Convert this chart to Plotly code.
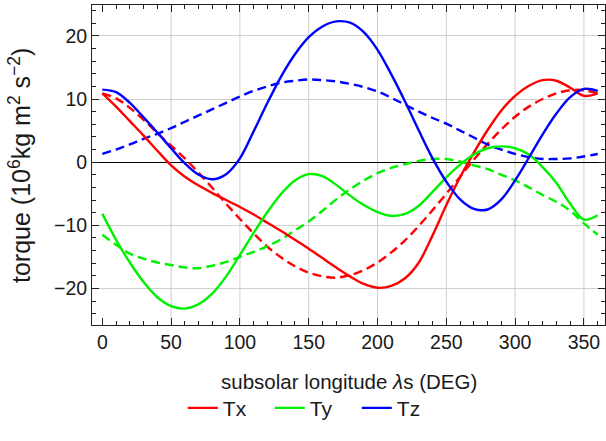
import plotly.graph_objects as go

# Torque components vs. subsolar longitude (solid: full model, dashed: smooth model)
lon = [0, 10, 20, 30, 40, 50, 60, 70, 80, 90, 100, 110, 120, 130, 140, 150, 160, 170, 180,
       190, 200, 210, 220, 230, 240, 250, 260, 270, 280, 290, 300, 310, 320, 330, 340, 350, 360]

tx = [10.9, 8.8, 6.5, 4.2, 1.8, -0.5, -2.3, -3.7, -4.9, -6.0, -7.1, -8.3, -9.6, -10.9, -12.3,
      -13.7, -15.2, -16.7, -18.1, -19.3, -19.9, -19.6, -18.4, -15.9, -11.6, -6.8, -2.4, 1.5,
      5.1, 8.2, 10.5, 12.1, 13.0, 12.9, 11.8, 10.5, 10.9]
tx_mean = [10.9, 10.1, 8.6, 6.7, 4.6, 2.6, 0.6, -1.7, -4.1, -6.6, -9.0, -11.3, -13.4, -15.1,
           -16.5, -17.5, -18.1, -18.3, -17.9, -17.1, -15.9, -14.3, -12.4, -10.1, -7.6, -5.0,
           -2.3, 0.4, 2.9, 5.2, 7.2, 8.8, 10.0, 10.9, 11.4, 11.4, 10.9]

ty = [-8.2, -12.3, -15.9, -19.0, -21.4, -22.8, -23.2, -22.5, -20.8, -18.1, -14.7, -11.2, -7.9,
      -5.0, -2.9, -1.9, -2.2, -3.6, -5.3, -6.8, -7.9, -8.5, -8.2, -6.9, -4.7, -2.4, -0.4, 1.2,
      2.2, 2.5, 2.2, 1.2, -0.8, -3.3, -6.6, -9.1, -8.4]
ty_mean = [-11.5, -13.1, -14.5, -15.3, -15.9, -16.3, -16.7, -16.8, -16.4, -15.8, -15.0, -14.2,
           -13.3, -12.2, -10.8, -9.4, -7.7, -5.9, -4.3, -2.9, -1.75, -0.9, -0.3, 0.2, 0.5, 0.5,
           0.1, -0.5, -1.1, -2.0, -2.9, -4.0, -5.2, -6.3, -7.7, -9.7, -11.5]

tz = [11.5, 11.1, 9.4, 7.1, 4.7, 2.2, -0.2, -2.0, -2.7, -1.9, 0.6, 4.9, 9.4, 13.6, 17.1, 19.8,
      21.5, 22.3, 22.1, 20.6, 17.8, 13.9, 9.6, 5.0, 0.6, -3.1, -5.9, -7.4, -7.5, -5.9, -2.9, 0.7,
      4.4, 7.7, 10.3, 11.6, 11.3]
tz_mean = [1.3, 2.0, 2.8, 3.7, 4.5, 5.4, 6.4, 7.4, 8.4, 9.4, 10.4, 11.3, 12.0, 12.6, 12.9, 13.1,
           13.0, 12.8, 12.4, 11.9, 11.2, 10.2, 9.1, 8.0, 7.0, 6.1, 5.0, 3.9, 2.8, 2.0, 1.3, 0.8,
           0.5, 0.5, 0.6, 0.9, 1.3]

names = ["Tx", "Ty", "Tz"]
colors = ["#ff0000", "#00f000", "#0000ff"]
x_ticks = [0, 50, 100, 150, 200, 250, 300, 350]
y_ticks = [-20, -10, 0, 10, 20]
x_grid = [50, 100, 150, 200, 250, 300, 350]

FONT = "Liberation Sans, Arial, sans-serif"
TXT = "#1a1a1a"

fig = go.Figure()

series = [(tx, tx_mean), (ty, ty_mean), (tz, tz_mean)]

for name, color, (full, mean) in zip(names, colors, series):
    fig.add_trace(go.Scatter(x=lon, y=mean, mode="lines", showlegend=False,
                             line=dict(color=color, width=2.4, dash="9px,5px", shape="spline")))
for name, color, (full, mean) in zip(names, colors, series):
    fig.add_trace(go.Scatter(x=lon, y=full, mode="lines", name=name,
                             line=dict(color=color, width=2.4, shape="spline")))

# vertical grid lines (none at the origin)
for gx in x_grid:
    fig.add_shape(type="line", xref="x", yref="paper", x0=gx, x1=gx, y0=0, y1=1,
                  line=dict(color="#cfcfcf", width=1), layer="below")

axis_common = dict(showline=True, linecolor="#222", linewidth=1, mirror="ticks",
                   ticks="inside", ticklen=7, tickcolor="#222", tickwidth=1,
                   tickfont=dict(family=FONT, size=19.5, color=TXT))

fig.update_xaxes(range=[-7.5, 365.3], tickvals=x_ticks, showgrid=False, zeroline=False,
                 minor=dict(ticks="inside", ticklen=4, dtick=10, tick0=0, tickcolor="#222",
                            showgrid=False),
                 **axis_common)
fig.update_yaxes(range=[-25.8, 24.9], tickvals=y_ticks, showgrid=True, gridcolor="#cfcfcf",
                 gridwidth=1, zeroline=True, zerolinecolor="#000", zerolinewidth=1,
                 minor=dict(ticks="inside", ticklen=4, dtick=2, tick0=0, tickcolor="#222",
                            showgrid=False),
                 **axis_common)

fig.add_annotation(text="subsolar longitude <i>λ</i>s (DEG)", xref="paper", yref="paper",
                   x=0.5, y=-0.175, xanchor="center", yanchor="middle", showarrow=False,
                   font=dict(family=FONT, size=20.5, color=TXT))
fig.add_annotation(text="torque (10<sup>6</sup>kg m<sup>2</sup> s<sup>\u22122</sup>)",
                   xref="paper", yref="paper", x=-0.1404, y=0.5, xanchor="center",
                   yanchor="middle", textangle=-90, showarrow=False,
                   font=dict(family=FONT, size=25, color=TXT))

fig.update_layout(
    width=606, height=441,
    margin=dict(l=92, r=1, t=5, b=116),
    paper_bgcolor="white", plot_bgcolor="white",
    legend=dict(orientation="h", x=0.177, xanchor="left", y=-0.26, yanchor="middle",
                entrywidth=42, entrywidthmode="pixels",
                font=dict(family=FONT, size=21, color=TXT), traceorder="normal"),
)

fig.write_html("out.html")
